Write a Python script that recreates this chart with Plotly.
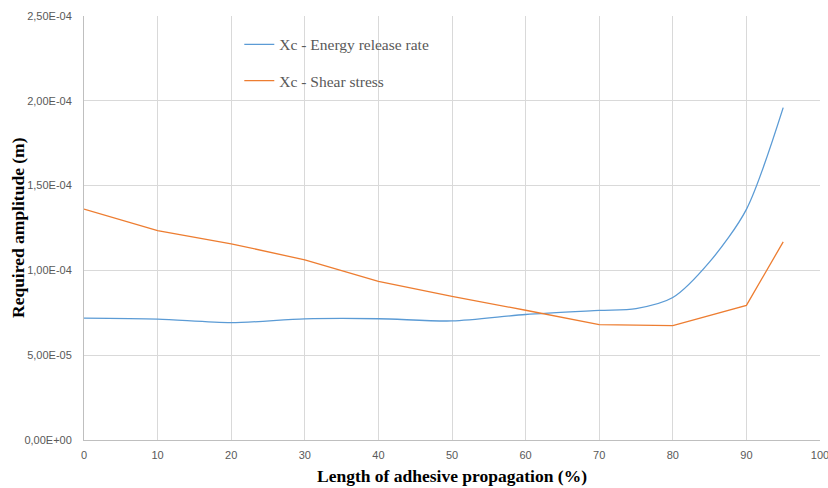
import plotly.graph_objects as go

# Data
x_energy = [0, 10, 20, 30, 40, 50, 60, 70, 75, 80, 85, 90, 95]
y_energy = [7.19e-5, 7.13e-5, 6.92e-5, 7.14e-5, 7.15e-5, 7.02e-5, 7.40e-5, 7.64e-5, 7.75e-5, 8.40e-5, 1.05e-4, 1.36e-4, 1.96e-4]

x_shear = [0, 10, 20, 30, 40, 50, 60, 70, 80, 90, 95]
y_shear = [1.362e-4, 1.235e-4, 1.157e-4, 1.062e-4, 9.35e-5, 8.47e-5, 7.65e-5, 6.80e-5, 6.74e-5, 7.94e-5, 1.168e-4]

x_ticks = [0, 10, 20, 30, 40, 50, 60, 70, 80, 90, 100]
y_ticks = [0, 5e-5, 1e-4, 1.5e-4, 2e-4, 2.5e-4]
y_tick_labels = ["0,00E+00", "5,00E-05", "1,00E-04", "1,50E-04", "2,00E-04", "2,50E-04"]

fig = go.Figure()
fig.add_trace(go.Scatter(
    x=x_energy, y=y_energy, mode="lines", name="Xc - Energy release rate",
    legendgroup="a",
    line=dict(color="#5B9BD5", width=1.3, shape="spline", smoothing=0.8),
))
fig.add_trace(go.Scatter(
    x=x_shear, y=y_shear, mode="lines", name="Xc - Shear stress",
    legendgroup="b",
    line=dict(color="#ED7D31", width=1.3),
))

tickfont = dict(family="Liberation Sans Narrow, Arial Narrow, sans-serif", size=11, color="#595959")
titlefont = dict(family="Liberation Serif, Times New Roman, serif", size=17.5, color="black")

fig.update_layout(
    width=828, height=488,
    margin=dict(l=84, r=8, t=16, b=48, autoexpand=False),
    paper_bgcolor="white", plot_bgcolor="white",
    showlegend=True,
    legend=dict(
        x=0.211, y=0.972, xanchor="left", yanchor="top",
        bgcolor="rgba(0,0,0,0)",
        font=dict(family="Liberation Serif, Times New Roman, serif", size=15.5, color="#595959"),
        tracegroupgap=13, itemwidth=30,
    ),
    xaxis=dict(
        range=[0, 100], tickvals=x_ticks, ticktext=[str(v) for v in x_ticks],
        showgrid=True, gridcolor="#d9d9d9", gridwidth=1,
        showline=True, linecolor="#bfbfbf", linewidth=1,
        zeroline=False, ticks="", ticklen=0, automargin=False,
        ticklabeloverflow="allow", ticklabelstandoff=5,
        tickfont=tickfont,
        title=dict(text="<b>Length of adhesive propagation (%)</b>", font=titlefont, standoff=9),
    ),
    yaxis=dict(
        range=[0, 2.5e-4], tickvals=y_ticks, ticktext=y_tick_labels,
        showgrid=True, gridcolor="#d9d9d9", gridwidth=1,
        showline=True, linecolor="#bfbfbf", linewidth=1,
        zeroline=False, ticks="", ticklen=0, automargin=False,
        ticklabeloverflow="allow", ticklabelstandoff=9,
        tickfont=tickfont,
    ),
    annotations=[dict(
        text="<b>Required amplitude (m)</b>", font=titlefont,
        xref="paper", yref="paper", x=-(84 - 18) / 736, y=0.5,
        xanchor="center", yanchor="middle", textangle=-90, showarrow=False,
    )],
)

fig.write_html(
    "out.html",
    config={"displayModeBar": False},
    post_script="document.body.style.margin='0';document.body.style.padding='0';",
)
